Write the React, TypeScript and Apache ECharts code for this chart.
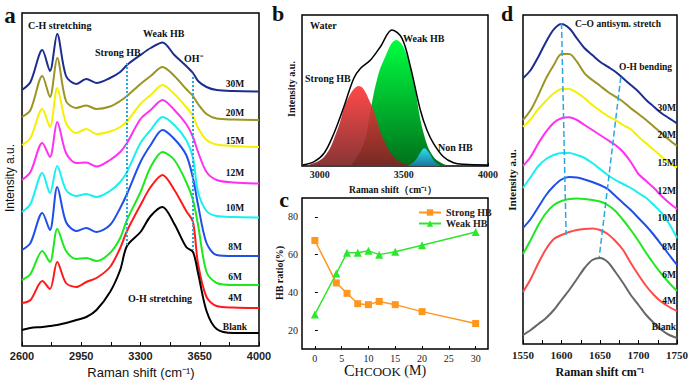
import React, { useEffect, useRef } from 'react';
import * as echarts from 'echarts';

// ---------- Panel a: Raman O-H / C-H stretching region (stacked spectra, a.u.) ----------
const aShift = [2600, 2650, 2720, 2765, 2808, 2860, 2920, 2980, 3040, 3120, 3180, 3220, 3300, 3360, 3430, 3500, 3570, 3610, 3640, 3690, 3750, 3850, 4000];
const a30M = [256, 264, 296, 275, 312, 270, 262, 267, 263, 268, 274, 281, 291, 298, 303.5, 291, 280, 273, 265, 259, 256, 255, 254.5];
const a20M = [229, 236, 270, 249, 288, 245, 238, 240.5, 237, 239.5, 245, 250, 262, 270, 279, 270, 257, 250, 242, 232, 227.5, 226.5, 226];
const a15M = [201, 208, 237, 219, 258, 223, 213, 217, 212, 214.5, 219, 224.5, 242, 251, 261, 252, 239, 230, 218, 206, 201.5, 200, 199];
const a12M = [166, 174, 203, 189, 224, 193, 183, 183.5, 179.5, 186, 194, 203, 227, 236, 246, 236, 222, 209, 194, 174, 166, 163.5, 162.5];
const a10M = [134, 142, 173, 153, 180, 156, 150, 152, 149, 155, 164, 174, 203, 216, 229, 221, 206, 188, 154, 135, 130, 129, 128.5];
const a8M = [96, 103, 133, 116, 159, 124, 115, 118, 114, 121, 138, 152, 184, 201, 216, 207, 191, 168, 141, 103, 91, 90, 90];
const a6M = [66, 72, 95, 84, 117, 95, 87, 88, 85, 93, 108, 126, 154, 179, 194, 186, 164, 146, 121, 74, 63, 61, 61];
const a4M = [43, 46, 65, 57, 84, 63, 59, 64, 68, 79, 98, 115, 141, 159, 171, 156, 135, 124, 82, 49, 40, 38.5, 38];
const aBlank = [16, 18, 19, 20, 21, 23, 26, 29, 36, 54, 76, 100, 114, 130, 139, 122, 99, 94, 73, 35, 17, 13, 13];
const aLabels = ['30M', '20M', '15M', '12M', '10M', '8M', '6M', '4M', 'Blank'];
const aTicks = [2600, 2950, 3300, 3650, 4000];
const aMinorTicks = [2600, 2775, 2950, 3125, 3300, 3475, 3650, 3825, 4000];
const aStrongGuide = [[3220, 283], [3220, 101]];
const aOhGuide = [[3610, 269], [3610, 96]];

// ---------- Panel b: Gaussian fit of water O-H band ----------
const bWaterShift = [2900, 2967, 3026, 3085, 3144, 3203, 3243, 3302, 3361, 3430, 3489, 3539, 3598, 3637, 3676, 3735, 3795, 3854, 4000];
const bWater = [1, 4.3, 12.7, 32.7, 59.3, 87.7, 97.7, 106, 119.3, 136, 127.7, 99.3, 56, 36, 22.7, 9.3, 3.3, 1.7, 1];
const bStrongShift = [2920, 3026, 3105, 3164, 3233, 3302, 3381, 3460, 3550];
const bStrong = [0.5, 9, 36, 66, 80, 63, 26, 6, 0.5];
const bWeakShift = [3190, 3263, 3302, 3340, 3381, 3456, 3506, 3559, 3617, 3677, 3750];
const bWeak = [1, 23, 56, 86, 106, 126, 116, 83, 33, 9, 1];
const bNonShift = [3529, 3570, 3600, 3622, 3650, 3680, 3716];
const bNon = [0.5, 6, 14, 17.7, 13, 5, 0.5];
const bTicks = [3000, 3500, 4000];

// ---------- Panel c: HB ratio vs HCOOK concentration ----------
const cConc = [0, 4, 6, 8, 10, 12, 15, 20, 30];
const cStrong = [67.5, 45, 39.5, 34, 33.5, 35.2, 33.5, 29.8, 23.5];
const cWeak = [28.3, 50, 61, 61, 62, 60, 61.5, 65, 72];
const cXTicks = [0, 5, 10, 15, 20, 25, 30];
const cYTicks = [20, 40, 60, 80];

// ---------- Panel d: 1550-1750 cm-1 region ----------
const dShift = [1550, 1560, 1570, 1580, 1590, 1600, 1610, 1620, 1630, 1640, 1650, 1660, 1670, 1680, 1690, 1700, 1710, 1720, 1730, 1740, 1750];
const d30M = [265.7, 274, 287.3, 302.3, 314.7, 320, 315.7, 305.7, 295.7, 289, 282.3, 277.3, 272.3, 265.7, 259, 252.3, 244, 237.3, 230.7, 225.7, 220.7];
const d20M = [224, 234, 249, 265.7, 279, 290, 290, 282.3, 270.7, 264, 258.3, 252.3, 247.3, 242.3, 235.7, 230, 224, 217.3, 210.7, 204, 198];
const d15M = [217.3, 224.7, 235, 243.3, 250.7, 255, 255, 251.3, 245.7, 239, 233.3, 228, 224, 219, 214.7, 207.3, 200.7, 194, 187.3, 181.3, 176.7];
const d12M = [178, 187.3, 200.7, 212.3, 221.3, 225.7, 226.7, 224, 219, 214, 209, 204, 199, 192, 182, 170, 163, 156, 148, 141, 135];
const d10M = [156, 167, 178, 185, 189, 191, 191, 189, 186, 181, 175, 169, 164, 160, 156, 151, 146, 139, 131, 120, 106];
const d8M = [116, 125, 137, 149, 158, 164.5, 167, 166.5, 164.5, 162, 159, 155, 148, 141, 134, 126, 118, 109, 99, 89, 79];
const d6M = [90, 104, 119, 131, 139, 143, 145, 145.5, 145, 144, 142.5, 139, 133, 124, 114, 103, 91, 80, 70, 61, 53];
const d4M = [52, 65, 81, 95, 105, 109, 112, 114, 115, 115.5, 114, 110, 103, 94, 81, 69, 58, 49, 42, 37, 33];
const dBlank = [9, 14, 20, 26, 34, 44, 54, 65, 76, 84, 86, 82, 72, 61, 49, 39, 29, 21, 14, 9, 6];
const dTicks = [1550, 1600, 1650, 1700, 1750];
const dMinorTicks = [1550, 1575, 1600, 1625, 1650, 1675, 1700, 1725, 1750];
const dCoGuide = [[1600, 321], [1606, 109]];
const dOhGuide = [[1677, 267], [1649, 87]];

// ---------- styles ----------
const SERIF = '"Liberation Serif", "Times New Roman", serif';
const SANS = '"Liberation Sans", Arial, sans-serif';
const aColors = ['#1c2d90', '#9c9424', '#f5f000', '#ff30f0', '#1af0f0', '#1f4fe8', '#1ee81e', '#ff1a1a', '#000000'];
const dColors = ['#1c2d90', '#9c9424', '#f5f000', '#ff30f0', '#1af0f0', '#1f4fe8', '#1ee81e', '#ff4a4a', '#666666'];
const guideColor = '#2aa6e0';

const zip = (xs: number[], ys: number[]) => xs.map((x, i) => [x, ys[i]]);
const plain = (v: number) => String(v);

function txt(text: string, x: number, y: number, font: string, align = 'left', rotation = 0, fill = '#111') {
  return {
    type: 'text', x, y, rotation, silent: true, z: 100,
    style: { text, font, fill, textAlign: align, align, textVerticalAlign: 'middle', verticalAlign: 'middle' },
  };
}

function buildOption() {
  const aData = [a30M, a20M, a15M, a12M, a10M, a8M, a6M, a4M, aBlank];
  const dData = [d30M, d20M, d15M, d12M, d10M, d8M, d6M, d4M, dBlank];
  const series: any[] = [];

  aData.forEach((vals, i) => {
    series.push({
      name: 'a-' + aLabels[i], type: 'line', xAxisIndex: 0, yAxisIndex: 0,
      data: zip(aShift, vals), symbol: 'none', smooth: 0.3, silent: true,
      lineStyle: { color: aColors[i], width: 2 }, itemStyle: { color: aColors[i] },
      markLine: i === aData.length - 1 ? {
        silent: true, symbol: ['none', 'none'], label: { show: false },
        lineStyle: { color: guideColor, type: 'dotted', width: 2 },
        data: [
          [{ coord: aStrongGuide[0] }, { coord: aStrongGuide[1] }],
          [{ coord: aOhGuide[0] }, { coord: aOhGuide[1] }],
        ],
      } : undefined,
    });
  });

  const grad = (c0: string, c1: string) => new echarts.graphic.LinearGradient(0, 0, 0, 1, [
    { offset: 0, color: c0 }, { offset: 1, color: c1 },
  ]);
  series.push({
    name: 'b-weak', type: 'line', xAxisIndex: 1, yAxisIndex: 1, data: zip(bWeakShift, bWeak),
    symbol: 'none', smooth: 0.4, silent: true, lineStyle: { width: 0 },
    areaStyle: { color: grad('#00ff40', '#00701c'), opacity: 1 },
  });
  series.push({
    name: 'b-strong', type: 'line', xAxisIndex: 1, yAxisIndex: 1, data: zip(bStrongShift, bStrong),
    symbol: 'none', smooth: 0.4, silent: true, lineStyle: { width: 0 },
    areaStyle: { color: grad('#ff3a3a', '#7e2424'), opacity: 0.92 },
  });
  series.push({
    name: 'b-non', type: 'line', xAxisIndex: 1, yAxisIndex: 1, data: zip(bNonShift, bNon),
    symbol: 'none', smooth: 0.4, silent: true, lineStyle: { width: 0 },
    areaStyle: { color: grad('#30dcec', '#18789c'), opacity: 1 },
  });
  series.push({
    name: 'b-water', type: 'line', xAxisIndex: 1, yAxisIndex: 1, data: zip(bWaterShift, bWater),
    symbol: 'none', smooth: 0.35, silent: true, lineStyle: { color: '#000', width: 1.5 },
  });

  series.push({
    name: 'Strong HB', type: 'line', xAxisIndex: 2, yAxisIndex: 2, data: zip(cConc, cStrong),
    symbol: 'rect', symbolSize: 7, lineStyle: { color: '#ff961e', width: 1.5 }, itemStyle: { color: '#ff961e' },
  });
  series.push({
    name: 'Weak HB', type: 'line', xAxisIndex: 2, yAxisIndex: 2, data: zip(cConc, cWeak),
    symbol: 'triangle', symbolSize: 8, lineStyle: { color: '#2de62d', width: 1.5 }, itemStyle: { color: '#2de62d' },
  });

  dData.forEach((vals, i) => {
    series.push({
      name: 'd-' + aLabels[i], type: 'line', xAxisIndex: 3, yAxisIndex: 3,
      data: zip(dShift, vals), symbol: 'none', smooth: 0.3, silent: true,
      lineStyle: { color: dColors[i], width: 2 }, itemStyle: { color: dColors[i] },
      markLine: i === dData.length - 1 ? {
        silent: true, symbol: ['none', 'none'], label: { show: false },
        lineStyle: { color: guideColor, type: 'dashed', width: 1.5 },
        data: [
          [{ coord: dCoGuide[0] }, { coord: dCoGuide[1] }],
          [{ coord: dOhGuide[0] }, { coord: dOhGuide[1] }],
        ],
      } : undefined,
    });
  });

  const frame = { show: true, borderColor: '#000', borderWidth: 1.5, backgroundColor: 'transparent' };
  const tickStyle = { color: '#000', width: 1 };

  const aLabelY = [84, 113, 141, 173, 208, 247, 277, 298, 327];
  const dLabelY = [108, 135, 163, 191, 218, 247, 275, 301, 327];
  const smallSerif = `bold 9.5px ${SERIF}`;
  const annSerif = `bold 10px ${SERIF}`;

  const graphic: any[] = [
    txt('a', 10, 15, `bold 23px ${SERIF}`, 'center'),
    txt('b', 278, 13, `bold 22px ${SERIF}`, 'center'),
    txt('c', 284, 199, `bold 22px ${SERIF}`, 'center'),
    txt('d', 507, 13, `bold 22px ${SERIF}`, 'center'),
    txt('C-H stretching', 28, 25, annSerif),
    txt('Strong HB', 95, 52, annSerif),
    txt('Weak HB', 143, 33, annSerif),
    txt('OH⁻', 184, 58, annSerif),
    txt('O-H stretching', 160, 298, annSerif, 'center'),
    txt('Intensity a.u.', 10, 178, `12px ${SANS}`, 'center', Math.PI / 2),
    txt('Raman shift (cm⁻¹)', 141, 372, `13px ${SANS}`, 'center'),
    txt('Water', 310, 25, annSerif),
    txt('Weak HB', 403, 38, annSerif),
    txt('Strong HB', 305, 78, annSerif),
    txt('Non HB', 438, 147, annSerif),
    txt('Intensity a.u.', 291, 89, `bold 10px ${SERIF}`, 'center', Math.PI / 2),
    txt('Raman shift（cm⁻¹）', 393, 190, `bold 9.5px ${SERIF}`, 'center'),
    txt('HB ratio(%)', 279, 273, `bold 10px ${SERIF}`, 'center', Math.PI / 2),
    {
      type: 'text', x: 385, y: 370, silent: true, z: 100,
      style: {
        text: '{c|C}{s|HCOOK}{m| (M)}', fill: '#111',
        textAlign: 'center', align: 'center', textVerticalAlign: 'middle', verticalAlign: 'middle',
        rich: {
          c: { fontFamily: SERIF, fontSize: 16, lineHeight: 16, fill: '#111' },
          s: { fontFamily: SERIF, fontSize: 13, lineHeight: 9, verticalAlign: 'bottom', fill: '#111' },
          m: { fontFamily: SERIF, fontSize: 14, lineHeight: 16, fill: '#111' },
        },
      },
    },
    txt('C–O antisym. stretch', 575, 24, smallSerif),
    txt('O-H bending', 619, 67, smallSerif),
    txt('Intensity a.u.', 512, 180, `bold 11px ${SERIF}`, 'center', Math.PI / 2),
    txt('Raman shift cm⁻¹', 600, 372, `bold 12px ${SERIF}`, 'center'),
  ];
  aLabels.forEach((l, i) => graphic.push(txt(l, 235, aLabelY[i], smallSerif, 'center')));
  aLabels.forEach((l, i) => graphic.push(txt(l, 676, dLabelY[i], smallSerif, 'right')));

  return {
    animation: false,
    backgroundColor: '#fff',
    grid: [
      { left: 22, top: 13, width: 237, height: 333, ...frame },
      { left: 302, top: 15, width: 186, height: 151, ...frame },
      { left: 302, top: 198, width: 186, height: 151, ...frame },
      { left: 523, top: 15, width: 156, height: 329, ...frame },
    ],
    xAxis: [
      {
        gridIndex: 0, type: 'value', min: 2600, max: 4000, axisLine: { show: false }, splitLine: { show: false },
        axisTick: { show: true, inside: true, length: 4, customValues: aMinorTicks, lineStyle: tickStyle },
        axisLabel: { customValues: aTicks, formatter: plain, margin: 4, fontFamily: SANS, fontWeight: 'bold', fontSize: 11, color: '#222' },
      },
      {
        gridIndex: 1, type: 'value', min: 2895, max: 4000, axisLine: { show: false }, splitLine: { show: false },
        axisTick: { show: true, inside: true, length: 3, customValues: bTicks, lineStyle: tickStyle },
        axisLabel: { customValues: bTicks, formatter: plain, margin: 3, fontFamily: SERIF, fontWeight: 'bold', fontSize: 10, color: '#222' },
      },
      {
        gridIndex: 2, type: 'value', min: -2.4, max: 32.3, axisLine: { show: false }, splitLine: { show: false },
        axisTick: { show: true, inside: true, length: 3, customValues: cXTicks, lineStyle: tickStyle },
        axisLabel: { customValues: cXTicks, formatter: plain, margin: 4, fontFamily: SERIF, fontSize: 10, color: '#222' },
      },
      {
        gridIndex: 3, type: 'value', min: 1550, max: 1750, axisLine: { show: false }, splitLine: { show: false },
        axisTick: { show: true, inside: true, length: 4, customValues: dMinorTicks, lineStyle: tickStyle },
        axisLabel: { customValues: dTicks, formatter: plain, margin: 5, fontFamily: SERIF, fontWeight: 'bold', fontSize: 11, color: '#222' },
      },
    ],
    yAxis: [
      { gridIndex: 0, type: 'value', min: 0, max: 333, show: false },
      { gridIndex: 1, type: 'value', min: 0, max: 151, show: false },
      {
        gridIndex: 2, type: 'value', min: 10, max: 90, axisLine: { show: false }, splitLine: { show: false },
        axisTick: { show: true, inside: true, length: 3, customValues: cYTicks, lineStyle: tickStyle },
        axisLabel: { customValues: cYTicks, formatter: plain, margin: 4, fontFamily: SERIF, fontSize: 10, color: '#222' },
      },
      { gridIndex: 3, type: 'value', min: 0, max: 329, show: false },
    ],
    legend: {
      data: ['Strong HB', 'Weak HB'], left: 413, top: 202, orient: 'vertical',
      itemWidth: 22, itemHeight: 8, itemGap: 0, selectedMode: false,
      textStyle: { fontFamily: SERIF, fontWeight: 'bold', fontSize: 10, color: '#222', lineHeight: 11 },
    },
    series,
    graphic,
  };
}

export default function App() {
  const ref = useRef<HTMLDivElement>(null);
  useEffect(() => {
    document.body.style.margin = '0';
    const chart = echarts.init(ref.current as HTMLDivElement, null, { renderer: 'svg' });
    chart.setOption(buildOption() as any);
    return () => chart.dispose();
  }, []);
  return <div ref={ref} style={{ position: 'absolute', left: 0, top: 0, width: 691, height: 381 }} />;
}
